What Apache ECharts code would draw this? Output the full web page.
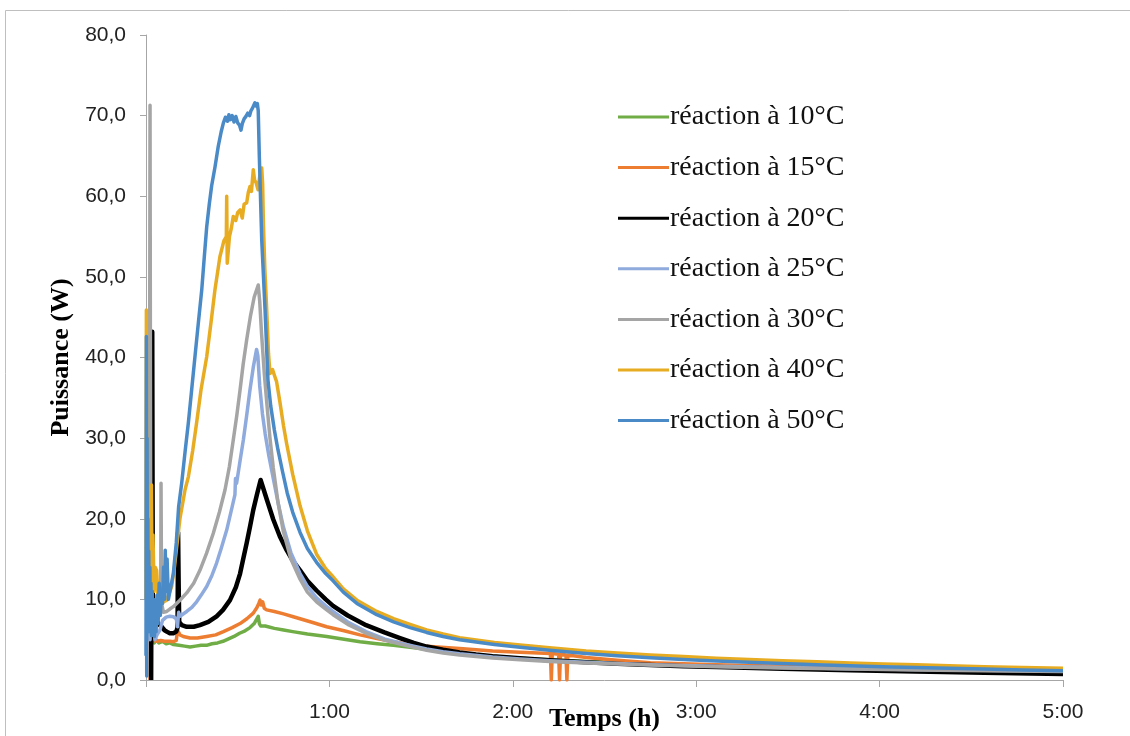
<!DOCTYPE html>
<html>
<head>
<meta charset="utf-8">
<script src="https://cdn.jsdelivr.net/npm/echarts@6/dist/echarts.min.js"></script>
<style>
html,body{margin:0;padding:0;background:#fff;}
#chart{width:1130px;height:736px;}
</style>
</head>
<body>
<div id="chart"></div>
<script>
// ---- Data (time in hours, power in W) ----
const seriesNames = ['réaction à 10°C','réaction à 15°C','réaction à 20°C','réaction à 25°C','réaction à 30°C','réaction à 40°C','réaction à 50°C'];
const xTickLabels = ['', '1:00', '2:00', '3:00', '4:00', '5:00'];
const yTickValues = [0,10,20,30,40,50,60,70,80];

const green10 = [[0.040,6.0],[0.045,4.6],[0.055,5.0],[0.07,4.6],[0.09,4.8],[0.11,4.5],[0.13,4.6],[0.15,4.4],[0.18,4.3],[0.21,4.2],[0.24,4.1],[0.27,4.2],[0.30,4.3],[0.33,4.3],[0.36,4.5],[0.39,4.6],[0.42,4.8],[0.45,5.1],[0.48,5.4],[0.51,5.8],[0.54,6.1],[0.567,6.5],[0.59,7.0],[0.605,7.6],[0.612,7.9],[0.618,7.0],[0.625,6.7],[0.65,6.7],[0.70,6.4],[0.75,6.2],[0.80,6.0],[0.88,5.7],[0.985,5.4],[1.08,5.05],[1.167,4.75],[1.26,4.5],[1.349,4.3],[1.44,4.05],[1.53,3.8],[1.71,3.3],[1.89,2.95],[2.04,2.7],[2.2,2.5],[2.4,2.3],[2.57,2.15],[2.75,2.0],[3.11,1.8],[3.47,1.6],[3.84,1.45],[4.2,1.35],[4.57,1.25],[5.0,1.15]];

const orange15 = [[0.022,0],[0.026,16],[0.03,9],[0.034,14],[0.038,5.5],[0.045,4.9],[0.06,4.8],[0.08,4.9],[0.10,4.8],[0.13,4.8],[0.15,4.75],[0.165,4.9],[0.172,6.2],[0.178,6.4],[0.185,5.6],[0.203,5.4],[0.24,5.2],[0.28,5.2],[0.331,5.4],[0.38,5.6],[0.422,6.0],[0.47,6.5],[0.513,7.0],[0.55,7.6],[0.585,8.3],[0.605,9.0],[0.615,9.5],[0.622,9.9],[0.628,9.3],[0.636,9.7],[0.645,8.9],[0.658,8.7],[0.70,8.5],[0.75,8.2],[0.803,7.85],[0.90,7.2],[0.985,6.6],[1.08,6.1],[1.167,5.6],[1.26,5.15],[1.349,4.75],[1.44,4.45],[1.53,4.2],[1.71,3.9],[1.89,3.6],[2.04,3.45],[2.205,3.3],[2.21,0],[2.215,3.3],[2.25,3.2],[2.255,0],[2.26,3.2],[2.29,3.1],[2.295,0],[2.30,3.1],[2.4,2.8],[2.57,2.45],[2.75,2.15],[3.11,1.9],[3.47,1.7],[3.84,1.5],[4.2,1.35],[4.57,1.25],[5.0,1.15]];

const black20 = [[0.028,0],[0.031,0],[0.034,43.2],[0.037,10],[0.042,8.5],[0.05,7.0],[0.06,7.3],[0.07,6.9],[0.086,6.6],[0.10,6.2],[0.113,6.0],[0.13,5.8],[0.149,5.8],[0.165,6.0],[0.172,6.5],[0.175,18.3],[0.178,12],[0.181,7.2],[0.195,6.8],[0.222,6.6],[0.26,6.6],[0.294,6.8],[0.34,7.2],[0.385,7.9],[0.42,8.7],[0.458,9.9],[0.49,11.5],[0.513,13.2],[0.53,15.0],[0.549,17.0],[0.567,19.0],[0.585,21.1],[0.605,23.0],[0.625,24.8],[0.631,24.6],[0.66,22.3],[0.694,19.9],[0.73,17.8],[0.767,16.1],[0.80,14.8],[0.84,13.6],[0.88,12.3],[0.93,11.1],[0.98,10.0],[1.02,9.2],[1.1,8.0],[1.2,6.8],[1.3,5.9],[1.385,5.2],[1.46,4.6],[1.53,4.15],[1.62,3.75],[1.71,3.4],[1.80,3.15],[1.89,2.95],[2.04,2.7],[2.2,2.45],[2.4,2.2],[2.57,2.0],[2.75,1.86],[2.93,1.72],[3.11,1.6],[3.47,1.4],[3.84,1.22],[4.2,1.05],[4.57,0.9],[5.0,0.74]];

const lav25 = [[0.01,12],[0.013,6],[0.018,10],[0.022,5],[0.026,8],[0.03,6],[0.035,7.9],[0.042,6.5],[0.049,5.0],[0.06,5.6],[0.076,6.2],[0.09,7.4],[0.11,7.8],[0.13,7.9],[0.149,7.85],[0.165,7.6],[0.172,6.6],[0.178,8.4],[0.185,7.9],[0.222,8.5],[0.25,9.0],[0.276,9.7],[0.30,10.5],[0.331,11.6],[0.36,13.0],[0.385,14.5],[0.41,16.3],[0.44,18.6],[0.47,21.5],[0.485,23.0],[0.488,25.0],[0.494,24.4],[0.515,27.5],[0.531,29.8],[0.55,33],[0.567,36.0],[0.585,38.8],[0.603,41.0],[0.61,40.2],[0.62,36.5],[0.635,33.0],[0.65,30.5],[0.67,27.8],[0.694,25.0],[0.72,22.0],[0.749,19.0],[0.79,15.8],[0.84,13.2],[0.88,11.6],[0.93,10.2],[0.98,9.2],[1.02,8.5],[1.1,7.2],[1.2,6.0],[1.3,5.1],[1.385,4.6],[1.46,4.2],[1.53,3.85],[1.62,3.5],[1.71,3.25],[1.89,2.85],[2.04,2.6],[2.2,2.4],[2.4,2.2],[2.57,2.05],[2.75,1.9],[3.11,1.7],[3.47,1.55],[3.84,1.4],[4.2,1.3],[4.57,1.2],[5.0,1.1]];

const gray30 = [[0.005,8],[0.012,10],[0.018,8.5],[0.022,71.3],[0.026,9],[0.032,8.0],[0.04,8.6],[0.05,8.2],[0.06,8.5],[0.07,8.0],[0.076,7.85],[0.080,9],[0.082,24.4],[0.085,9.5],[0.095,8.4],[0.113,8.5],[0.13,8.8],[0.149,9.1],[0.185,9.9],[0.222,10.8],[0.26,12.0],[0.294,13.6],[0.33,15.7],[0.367,18.2],[0.40,20.8],[0.431,23.6],[0.455,26.5],[0.476,29.8],[0.495,32.8],[0.513,36.0],[0.53,39.2],[0.549,42.2],[0.57,45.2],[0.59,47.5],[0.612,49.0],[0.62,47.0],[0.63,43.0],[0.645,38.0],[0.66,34.0],[0.676,30.0],[0.694,26.3],[0.72,22.0],[0.749,18.4],[0.79,15.0],[0.84,12.5],[0.88,10.9],[0.93,9.7],[0.98,8.8],[1.02,8.1],[1.1,6.9],[1.2,5.8],[1.3,4.95],[1.385,4.45],[1.46,4.05],[1.53,3.7],[1.62,3.35],[1.71,3.1],[1.89,2.72],[2.04,2.5],[2.2,2.3],[2.4,2.1],[2.57,1.97],[2.75,1.85],[3.11,1.65],[3.47,1.5],[3.84,1.35],[4.2,1.25],[4.57,1.15],[5.0,1.05]];

const yel40 = [[0.0,10],[0.002,45.9],[0.004,12],[0.007,30],[0.01,14],[0.014,20],[0.018,11],[0.022,15],[0.026,10],[0.03,24.2],[0.033,12],[0.038,18],[0.044,11],[0.05,14],[0.058,13.6],[0.065,10.5],[0.076,9.5],[0.09,9.6],[0.113,9.9],[0.127,10.8],[0.14,11.6],[0.155,14],[0.167,16.5],[0.185,20],[0.203,22.3],[0.213,23.6],[0.231,25.2],[0.255,28.5],[0.276,31.9],[0.30,36],[0.331,40.1],[0.358,45],[0.376,48.4],[0.403,52.5],[0.425,54.5],[0.438,55.0],[0.44,60.0],[0.443,51.7],[0.455,55.0],[0.465,56.0],[0.476,57.5],[0.49,57.0],[0.50,58.0],[0.513,58.3],[0.525,57.3],[0.535,59.0],[0.549,59.2],[0.558,60.5],[0.567,61.2],[0.575,60.6],[0.585,63.3],[0.592,62.0],[0.6,61.7],[0.611,60.8],[0.62,62.5],[0.631,63.5],[0.636,61.5],[0.64,56.7],[0.648,51],[0.658,46],[0.668,40.5],[0.676,38.0],[0.69,38.5],[0.70,37.8],[0.712,37.0],[0.73,34.5],[0.75,31.5],[0.767,29.3],[0.80,25.5],[0.84,21.6],[0.88,18.5],[0.93,15.6],[0.98,13.8],[1.02,12.8],[1.076,11.3],[1.15,9.9],[1.258,8.5],[1.35,7.6],[1.44,6.9],[1.53,6.2],[1.62,5.7],[1.71,5.25],[1.80,4.95],[1.9,4.65],[2.04,4.35],[2.2,4.0],[2.4,3.6],[2.57,3.35],[2.75,3.1],[2.93,2.9],[3.11,2.7],[3.29,2.55],[3.47,2.4],[3.66,2.25],[3.84,2.1],[4.02,2.0],[4.2,1.9],[4.38,1.78],[4.57,1.65],[4.78,1.55],[5.0,1.45]];

const blue50 = [[0.0,3],[0.002,42.6],[0.004,0.5],[0.006,30],[0.008,6],[0.010,20],[0.012,8],[0.015,16],[0.018,6],[0.021,14],[0.024,7],[0.027,12],[0.030,5.5],[0.034,11],[0.038,6],[0.042,10],[0.046,5.4],[0.05,9],[0.055,6],[0.06,10.5],[0.066,7],[0.072,12],[0.078,8],[0.084,11],[0.09,9.5],[0.096,14],[0.10,10],[0.105,16.1],[0.11,11],[0.115,15],[0.122,10],[0.135,11.5],[0.149,13.2],[0.165,17],[0.178,21.5],[0.195,24.5],[0.213,28.3],[0.231,31.9],[0.249,36],[0.267,40.1],[0.285,44.2],[0.304,48.4],[0.318,52.5],[0.331,56.2],[0.345,59.0],[0.358,61.3],[0.376,63.6],[0.394,66.2],[0.41,68.0],[0.422,69.1],[0.433,69.8],[0.444,69.3],[0.452,70.1],[0.46,69.5],[0.47,70.0],[0.48,69.2],[0.49,69.9],[0.50,69.1],[0.51,68.8],[0.518,68.2],[0.525,69.0],[0.535,69.6],[0.545,69.9],[0.555,70.3],[0.565,70.0],[0.572,70.6],[0.58,70.9],[0.588,71.0],[0.594,71.6],[0.6,71.2],[0.607,71.5],[0.612,70.6],[0.618,64.9],[0.631,54.6],[0.649,46.0],[0.665,37.2],[0.68,34.0],[0.70,31.0],[0.72,28.5],[0.745,25.8],[0.77,23.2],[0.80,20.8],[0.84,18.3],[0.88,16.3],[0.93,14.6],[0.98,13.2],[1.02,12.3],[1.076,10.9],[1.15,9.5],[1.258,8.1],[1.35,7.2],[1.44,6.5],[1.53,5.9],[1.62,5.4],[1.71,5.0],[1.80,4.7],[1.9,4.4],[2.04,4.05],[2.2,3.7],[2.4,3.3],[2.57,3.0],[2.75,2.75],[2.93,2.55],[3.11,2.35],[3.29,2.2],[3.47,2.05],[3.66,1.9],[3.84,1.78],[4.02,1.65],[4.2,1.55],[4.38,1.45],[4.57,1.35],[4.78,1.25],[5.0,1.15]];

const seriesData = [green10, orange15, black20, lav25, gray30, yel40, blue50];
const seriesColors = ['#70AD47','#ED7D31','#000000','#8FAADC','#A5A5A5','#E8AC22','#4A8AC6'];
const seriesWidths = [3.5,3.5,4.5,3.5,3.5,3.5,3.5];

const chart = echarts.init(document.getElementById('chart'), null, {renderer:'canvas'});
const axisGray = '#A6A6A6';
const option = {
  animation: false,
  backgroundColor: '#fff',
  graphic: [{
    type: 'rect', left: 3, top: 8, z: -10,
    shape: {x: 0.5, y: 0.5, width: 1140, height: 760},
    style: {fill: 'none', stroke: '#BFBFBF', lineWidth: 1}
  }],
  grid: {left: 146, right: 67, top: 35, bottom: 56, containLabel: false, outerBoundsMode: 'none'},
  legend: {
    orient: 'vertical', left: 613, top: 98,
    icon: 'rect', itemWidth: 51, itemHeight: 3, itemGap: 22.6,
    data: seriesNames.map(function (n, i) {
      return {name: n, itemStyle: {color: seriesColors[i]}};
    }),
    textStyle: {fontFamily: 'Liberation Serif, Times New Roman, serif', fontSize: 28, color: '#111', padding: [0,0,0,-4]}
  },
  xAxis: {
    type: 'value', min: 0, max: 5, interval: 1,
    name: 'Temps (h)', nameLocation: 'middle', nameGap: 26, nameMoveOverlap: false,
    nameTextStyle: {fontFamily: 'Liberation Serif, serif', fontWeight: 'bold', fontSize: 26, color: '#000'},
    axisLine: {show: true, lineStyle: {color: axisGray, width: 1}},
    axisTick: {show: true, inside: false, length: 7, lineStyle: {color: axisGray}},
    splitLine: {show: false},
    axisLabel: {
      margin: 22, fontFamily: 'Liberation Sans, Arial, sans-serif', fontSize: 21, color: '#222',
      formatter: function (v) { return xTickLabels[Math.round(v)] || ''; }
    }
  },
  yAxis: {
    type: 'value', min: 0, max: 80, interval: 10,
    name: 'Puissance (W)', nameLocation: 'middle', nameGap: 72, nameMoveOverlap: false,
    nameTextStyle: {fontFamily: 'Liberation Serif, serif', fontWeight: 'bold', fontSize: 26, color: '#000'},
    axisLine: {show: true, lineStyle: {color: axisGray, width: 1}},
    axisTick: {show: true, inside: false, length: 6, lineStyle: {color: axisGray}},
    splitLine: {show: false},
    axisLabel: {
      margin: 20, fontFamily: 'Liberation Sans, Arial, sans-serif', fontSize: 21, color: '#222',
      formatter: function (v) { return yTickValues.indexOf(v) >= 0 ? v.toFixed(1).replace('.', ',') : ''; }
    }
  },
  series: seriesNames.map(function (n, i) {
    return {
      name: n, type: 'line', data: seriesData[i],
      symbol: 'none', showSymbol: false, smooth: false,
      lineStyle: {color: seriesColors[i], width: seriesWidths[i], join: 'round'},
      itemStyle: {color: seriesColors[i]},
      z: 2 + i
    };
  })
};
chart.setOption(option);
</script>
</body>
</html>
